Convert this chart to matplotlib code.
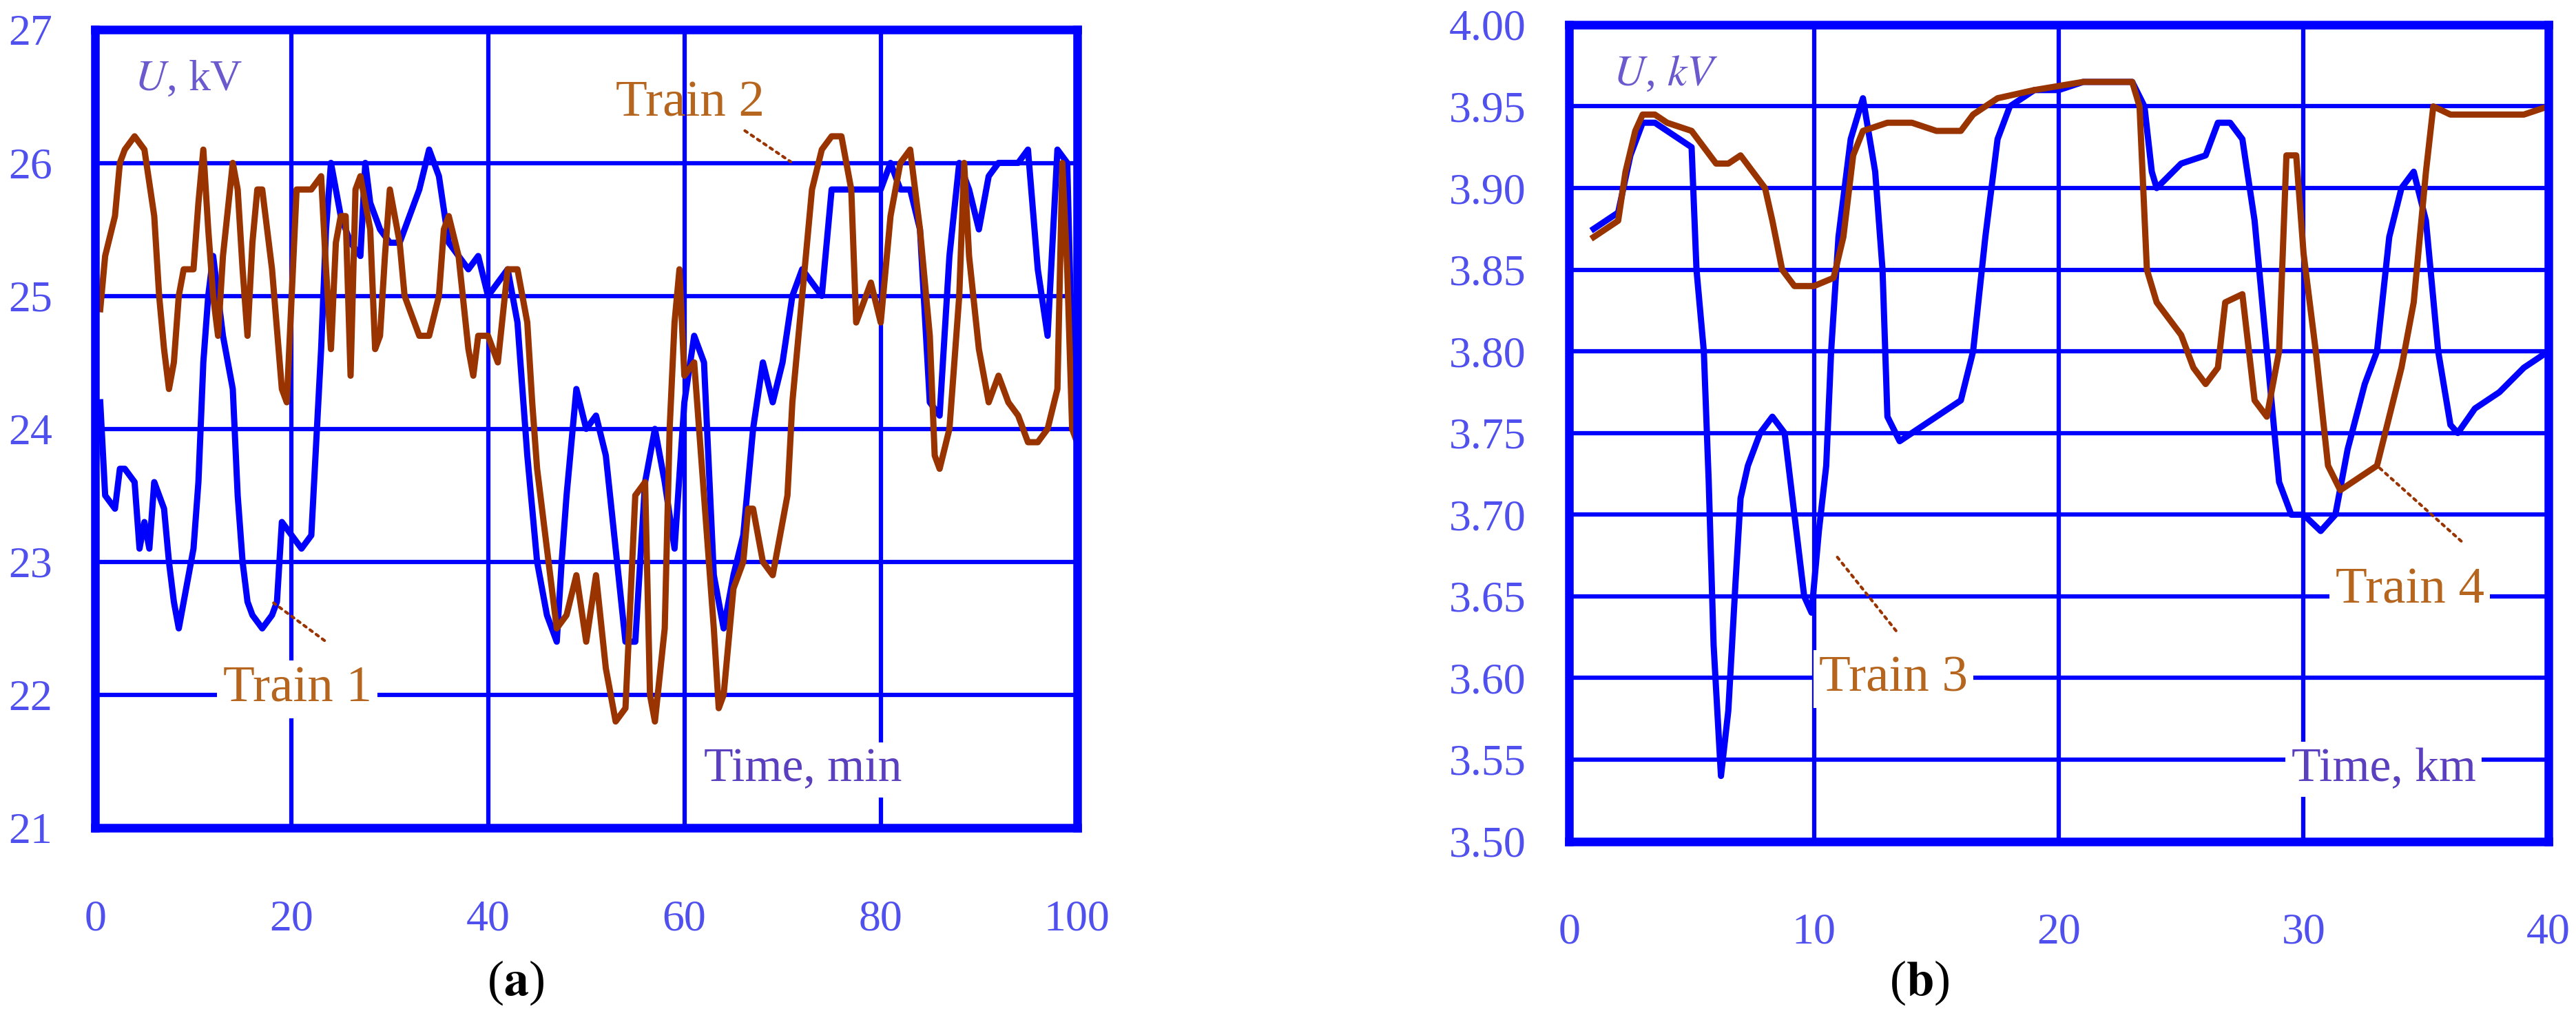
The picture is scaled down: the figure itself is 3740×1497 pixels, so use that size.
import matplotlib
matplotlib.use("Agg")
import matplotlib.pyplot as plt

# panel (a): voltage vs time, 25 kV trains
t1 = [0.5, 1, 2, 2.5, 3, 4, 4.5, 5, 5.5, 6, 6.5, 7, 7.5, 8, 8.5, 9, 10, 10.5, 11, 11.5, 12, 13, 13.5, 14, 14.5,
      15, 15.5, 16, 17, 18, 18.5, 19, 20, 21, 22, 23, 23.5, 24, 25, 26, 27, 27.5, 28, 29, 30, 31, 32, 33, 34, 35,
      36, 37, 38, 39, 40, 41, 42, 43, 44, 45, 46, 47, 47.5, 48, 49, 50, 51, 52, 53, 54, 55, 56, 57, 58, 59, 60,
      61, 62, 63, 64, 65, 66, 67, 68, 69, 70, 71, 72, 73, 74, 75, 76, 78, 80, 81, 82, 83, 84, 85, 86, 87, 88, 89,
      90, 91, 92, 94, 95, 96, 97, 98, 99, 99.5, 100]
u1 = [24.2, 23.5, 23.4, 23.7, 23.7, 23.6, 23.1, 23.3, 23.1, 23.6, 23.5, 23.4, 23.0, 22.7, 22.5, 22.7, 23.1, 23.6,
      24.5, 25.0, 25.3, 24.7, 24.5, 24.3, 23.5, 23.0, 22.7, 22.6, 22.5, 22.6, 22.7, 23.3, 23.2, 23.1, 23.2, 24.6,
      25.5, 26.0, 25.6, 25.4, 25.3, 26.0, 25.7, 25.5, 25.4, 25.4, 25.6, 25.8, 26.1, 25.9, 25.4, 25.3, 25.2, 25.3,
      25.0, 25.1, 25.2, 24.8, 23.8, 23.0, 22.6, 22.4, 23.0, 23.5, 24.3, 24.0, 24.1, 23.8, 23.1, 22.4, 22.4, 23.6,
      24.0, 23.6, 23.1, 24.2, 24.7, 24.5, 22.9, 22.5, 22.9, 23.2, 24.0, 24.5, 24.2, 24.5, 25.0, 25.2, 25.1, 25.0,
      25.8, 25.8, 25.8, 25.8, 26.0, 25.8, 25.8, 25.5, 24.2, 24.1, 25.3, 26.0, 25.8, 25.5, 25.9, 26.0, 26.0, 26.1,
      25.2, 24.7, 26.1, 26.0, 24.5, 24.0]
t2 = [0.5, 1, 2, 2.5, 3, 4, 5, 6, 6.5, 7, 7.5, 8, 8.5, 9, 10, 10.5, 11, 11.5, 12, 12.5, 13, 14, 14.5, 15, 15.5,
      16, 16.5, 17, 18, 19, 19.5, 20, 20.5, 21, 22, 23, 23.5, 24, 24.5, 25, 25.5, 26, 26.5, 27, 28, 28.5, 29,
      29.5, 30, 31, 31.5, 32, 33, 34, 35, 35.5, 36, 37, 38, 38.5, 39, 40, 41, 42, 43, 44, 44.5, 45, 46, 47, 48,
      49, 50, 51, 52, 53, 54, 55, 56, 56.5, 57, 58, 58.5, 59, 59.5, 60, 61, 62, 63, 63.5, 64, 65, 66, 66.5, 67,
      68, 69, 70, 70.5, 71, 72, 73, 74, 75, 76, 77, 77.5, 78, 79, 80, 81, 82, 83, 84, 85, 85.5, 86, 87, 88, 88.5,
      89, 90, 91, 92, 93, 94, 95, 96, 97, 98, 98.5, 99, 99.5, 100]
u2 = [24.9, 25.3, 25.6, 26.0, 26.1, 26.2, 26.1, 25.6, 25.0, 24.6, 24.3, 24.5, 25.0, 25.2, 25.2, 25.7, 26.1, 25.5,
      25.0, 24.7, 25.3, 26.0, 25.8, 25.2, 24.7, 25.4, 25.8, 25.8, 25.2, 24.3, 24.2, 25.0, 25.8, 25.8, 25.8, 25.9,
      25.2, 24.6, 25.4, 25.6, 25.6, 24.4, 25.8, 25.9, 25.5, 24.6, 24.7, 25.3, 25.8, 25.4, 25.0, 24.9, 24.7, 24.7,
      25.0, 25.5, 25.6, 25.3, 24.6, 24.4, 24.7, 24.7, 24.5, 25.2, 25.2, 24.8, 24.2, 23.7, 23.1, 22.5, 22.6, 22.9,
      22.4, 22.9, 22.2, 21.8, 21.9, 23.5, 23.6, 22.0, 21.8, 22.5, 24.0, 24.8, 25.2, 24.4, 24.5, 23.5, 22.5, 21.9,
      22.0, 22.8, 23.0, 23.4, 23.4, 23.0, 22.9, 23.3, 23.5, 24.2, 25.0, 25.8, 26.1, 26.2, 26.2, 25.8, 24.8, 24.9,
      25.1, 24.8, 25.6, 26.0, 26.1, 25.5, 24.7, 23.8, 23.7, 24.0, 25.0, 26.0, 25.3, 24.6, 24.2, 24.4, 24.2, 24.1,
      23.9, 23.9, 24.0, 24.3, 26.0, 25.2, 24.0, 23.9]

# panel (b): voltage vs distance, 3 kV trains
d3 = [1, 1.5, 2, 2.5, 3, 3.5, 4, 4.5, 5, 5.2, 5.5, 5.7, 5.9, 6.2, 6.5, 6.8, 7, 7.3, 7.8, 8.3, 8.8, 9.2, 9.6, 9.9,
      10.2, 10.5, 10.7, 11, 11.5, 12, 12.5, 12.8, 13, 13.5, 14, 15, 16, 16.5, 17, 17.5, 18, 19, 20, 21, 22, 23,
      23.5, 23.8, 24, 25, 26, 26.5, 27, 27.5, 28, 28.5, 29, 29.5, 30, 30.7, 31.3, 31.8, 32.5, 33, 33.5, 34, 34.5,
      35, 35.5, 36, 36.3, 37, 38, 39, 40]
u3 = [3.875, 3.88, 3.885, 3.92, 3.94, 3.94, 3.935, 3.93, 3.925, 3.85, 3.80, 3.72, 3.62, 3.54, 3.58, 3.66, 3.71,
      3.73, 3.75, 3.76, 3.75, 3.70, 3.65, 3.64, 3.69, 3.73, 3.80, 3.87, 3.93, 3.955, 3.91, 3.85, 3.76, 3.745, 3.75,
      3.76, 3.77, 3.80, 3.87, 3.93, 3.95, 3.96, 3.96, 3.965, 3.965, 3.965, 3.95, 3.91, 3.90, 3.915, 3.92, 3.94,
      3.94, 3.93, 3.88, 3.80, 3.72, 3.70, 3.70, 3.69, 3.70, 3.74, 3.78, 3.80, 3.87, 3.90, 3.91, 3.88, 3.80, 3.755,
      3.75, 3.765, 3.775, 3.79, 3.80]
d4 = [1, 1.5, 2, 2.3, 2.7, 3, 3.5, 4, 5, 5.5, 6, 6.5, 7, 7.5, 8, 8.3, 8.7, 9.2, 10, 10.8, 11.2, 11.6, 12, 13, 14,
      15, 16, 16.5, 17.5, 19, 21, 23, 23.3, 23.6, 24, 24.5, 25, 25.5, 26, 26.5, 26.8, 27.5, 28, 28.5, 29, 29.3,
      29.7, 30, 30.5, 31, 31.5, 32, 33, 33.5, 34, 34.5, 35, 35.3, 36, 37, 38, 39, 40]
u4 = [3.87, 3.875, 3.88, 3.91, 3.935, 3.945, 3.945, 3.94, 3.935, 3.925, 3.915, 3.915, 3.92, 3.91, 3.90, 3.88,
      3.85, 3.84, 3.84, 3.845, 3.87, 3.92, 3.935, 3.94, 3.94, 3.935, 3.935, 3.945, 3.955, 3.96, 3.965, 3.965,
      3.95, 3.85, 3.83, 3.82, 3.81, 3.79, 3.78, 3.79, 3.83, 3.835, 3.77, 3.76, 3.80, 3.92, 3.92, 3.86, 3.80, 3.73,
      3.715, 3.72, 3.73, 3.76, 3.79, 3.83, 3.91, 3.95, 3.945, 3.945, 3.945, 3.945, 3.95]

BLUE = "#0000ff"
BROWN = "#993300"
LABEL_BROWN = "#b5651d"
TICK_COLOR = "#5050ee"

plt.rcParams["font.family"] = ["Liberation Serif", "DejaVu Serif"]
plt.rcParams["mathtext.fontset"] = "stix"

fig = plt.figure(figsize=(37.41, 14.97), dpi=100)
ax_a = fig.add_axes([0.037, 0.197, 0.381, 0.774])
ax_b = fig.add_axes([0.609, 0.184, 0.380, 0.792])


def style_axes(ax, xticks, yticks, yfmt):
    ax.set_xticks(xticks)
    ax.set_yticks(yticks)
    ax.set_yticklabels([yfmt.format(v) for v in yticks])
    ax.set_xlim(xticks[0], xticks[-1])
    ax.set_ylim(yticks[0], yticks[-1])
    ax.grid(True, color=BLUE, linewidth=4.5)
    ax.set_axisbelow(True)
    for spine in ax.spines.values():
        spine.set_color(BLUE)
        spine.set_linewidth(9)
    ax.tick_params(length=0, labelsize=46, colors=TICK_COLOR)
    ax.tick_params(axis="x", pad=75)
    ax.tick_params(axis="y", pad=45)


box = dict(facecolor="white", edgecolor="none", pad=6)

style_axes(ax_a, [0, 20, 40, 60, 80, 100], [21, 22, 23, 24, 25, 26, 27], "{:g}")
ax_a.plot(t1, u1, color=BLUE, linewidth=6.5)
ax_a.plot(t2, u2, color=BROWN, linewidth=6.5)
ax_a.text(4, 26.55, r"$U$, kV", fontsize=46, color="#6a5acd", bbox=box)
ax_a.text(62, 21.35, "Time, min", fontsize=50, color="#5a3fbf", bbox=box)
ax_a.text(13, 21.95, "Train 1", fontsize=54, color=LABEL_BROWN, bbox=box)
ax_a.text(53, 26.35, "Train 2", fontsize=54, color=LABEL_BROWN)
ax_a.annotate("", xy=(18, 22.7), xytext=(23.5, 22.4),
              arrowprops=dict(arrowstyle="-", color=BROWN, linestyle=":", linewidth=3))
ax_a.annotate("", xy=(71, 26.0), xytext=(66, 26.25),
              arrowprops=dict(arrowstyle="-", color=BROWN, linestyle=":", linewidth=3))

yb = [3.50, 3.55, 3.60, 3.65, 3.70, 3.75, 3.80, 3.85, 3.90, 3.95, 4.00]
style_axes(ax_b, [0, 10, 20, 30, 40], yb, "{:.2f}")
ax_b.plot(d3, u3, color=BLUE, linewidth=6.5)
ax_b.plot(d4, u4, color=BROWN, linewidth=6.5)
ax_b.text(1.8, 3.963, r"$U$, $kV$", fontsize=46, color="#6a5acd", bbox=box)
ax_b.text(29.5, 3.537, "Time, km", fontsize=50, color="#5a3fbf", bbox=box)
ax_b.text(10.2, 3.592, "Train 3", fontsize=54, color=LABEL_BROWN, bbox=box)
ax_b.text(31.3, 3.646, "Train 4", fontsize=54, color=LABEL_BROWN, bbox=box)
ax_b.annotate("", xy=(10.9, 3.675), xytext=(13.4, 3.628),
              arrowprops=dict(arrowstyle="-", color=BROWN, linestyle=":", linewidth=3))
ax_b.annotate("", xy=(33, 3.73), xytext=(36.5, 3.683),
              arrowprops=dict(arrowstyle="-", color=BROWN, linestyle=":", linewidth=3))

fig.text(0.2, 0.035, r"($\mathbf{a}$)", fontsize=52, ha="center")
fig.text(0.745, 0.035, r"($\mathbf{b}$)", fontsize=52, ha="center")

fig.savefig("out.png", dpi=100)
